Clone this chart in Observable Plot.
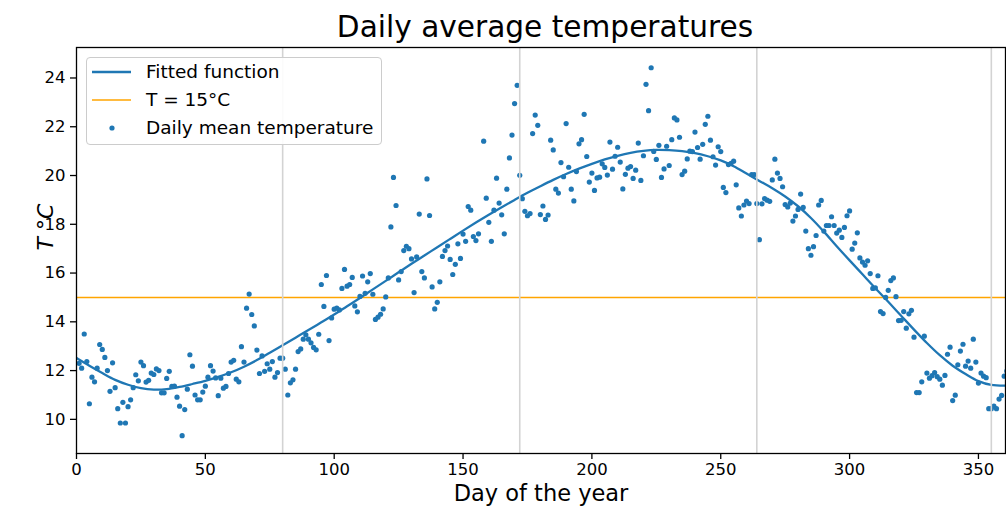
<!DOCTYPE html>
<html>
<head>
<meta charset="utf-8">
<script src="https://cdn.jsdelivr.net/npm/d3@7"></script>
<script src="https://cdn.jsdelivr.net/npm/@observablehq/plot@0.6"></script>
<style>
  body { margin: 0; background: white; font-family: "DejaVu Sans", sans-serif; }
  #wrap { position: relative; width: 1006px; height: 515px; overflow: hidden; }
  #title { box-sizing: border-box; height: 40px; padding-top: 10px; margin-left: 76px; width: 938px;
           text-align: center; font-size: 29.6px; line-height: 1.164; color: #000; white-space: nowrap; }
  #legend { position: absolute; left: 86px; top: 57px; width: 296px; height: 88px; box-sizing: border-box;
            border: 1px solid #cccccc; border-radius: 4px; background: rgba(255,255,255,0.9); }
  #legend svg { position: absolute; left: -1px; top: -1px; }
</style>
</head>
<body>
<div id="wrap">
  <div id="title">Daily average temperatures</div>
  <div id="chart"></div>
  <div id="legend"></div>
</div>
<script>
// Observed daily mean temperatures (day of year, °C)
const days = [
  1,2,3,4,5,6,7,8,9,10,11,12,13,14,15,16,17,18,19,20,
  21,22,23,24,25,26,27,28,29,30,31,32,33,34,35,36,37,38,39,40,
  41,42,43,44,45,46,47,48,49,50,51,52,53,54,55,56,57,58,59,60,
  61,62,63,64,65,66,67,68,69,70,71,72,73,74,75,76,77,78,79,80,
  81,82,83,84,85,86,87,88,89,90,91,92,93,94,95,96,97,98,99,100,
  101,102,103,104,105,106,107,108,109,110,111,112,113,114,115,116,117,118,119,120,
  121,122,123,124,125,126,127,128,129,130,131,132,133,134,135,136,137,138,139,140,
  141,142,143,144,145,146,147,148,149,150,151,152,153,154,155,156,158,159,160,
  161,162,163,164,165,166,167,168,169,170,171,172,173,174,175,176,177,178,179,180,
  181,182,183,184,185,186,187,188,189,190,191,192,193,194,195,196,197,198,199,200,
  201,202,203,204,205,206,207,208,209,210,211,212,213,214,215,216,217,218,219,220,
  221,222,223,224,225,226,227,228,229,230,231,232,233,234,235,236,237,238,239,240,
  241,242,243,244,245,246,247,248,249,250,251,252,253,254,255,256,257,258,259,260,
  261,262,263,264,265,266,267,268,269,270,271,272,273,274,275,276,277,278,279,280,
  281,282,283,284,285,286,287,288,289,290,291,292,293,294,295,296,297,298,299,300,
  301,302,303,304,305,306,307,308,309,310,311,312,313,314,315,316,317,318,319,320,
  321,322,323,324,325,326,327,328,329,330,331,332,333,334,335,336,337,338,339,340,
  341,342,343,344,345,346,347,348,349,350,351,352,353,354,355,356,357,358,359,360,361
];
const temps = [
  12.3,12.1,13.5,12.37,10.64,11.73,11.54,12.1,13.07,12.87,12.54,12.0,11.15,12.32,11.3,10.44,9.85,10.7,9.85,10.52,
  10.8,11.3,11.83,11.58,12.35,12.2,11.53,11.6,11.9,11.84,12.07,12.0,11.09,11.09,11.68,11.97,11.35,11.36,10.91,10.54,
  9.33,10.4,11.24,12.65,12.18,11.0,10.8,10.8,11.12,11.36,11.73,12.2,11.98,11.7,10.97,11.69,11.28,11.35,11.88,12.35,
  12.42,11.65,11.54,12.98,12.35,14.56,15.14,14.3,13.83,12.84,11.88,12.6,11.97,12.28,12.06,12.37,11.73,11.92,12.51,12.51,
  12.06,11.0,11.5,11.62,12.06,12.78,12.89,13.29,13.47,13.29,13.14,12.95,12.85,13.49,15.53,14.63,15.9,13.23,14.16,14.52,
  14.56,14.49,15.37,16.15,15.46,15.53,15.82,14.65,14.41,15.04,15.88,15.17,15.64,15.98,15.13,14.1,14.19,14.31,14.53,15.02,
  15.8,17.89,19.92,18.77,15.72,16.06,16.92,17.1,17.0,16.58,15.2,16.66,18.42,16.06,15.8,19.86,18.36,15.43,14.53,14.8,
  15.64,16.68,16.92,17.11,16.56,15.94,16.36,17.2,16.6,17.6,17.3,18.73,18.58,17.5,17.33,17.61,21.41,19.07,18.08,
  17.3,18.58,19.89,18.87,18.39,17.61,19.44,20.72,21.66,22.95,23.7,20.01,19.05,18.53,18.35,18.44,21.72,22.48,22.06,18.4,
  18.75,18.2,18.38,21.45,21.05,19.44,19.28,20.53,19.95,22.13,20.34,19.44,18.96,20.16,21.3,21.47,22.51,20.78,19.73,20.1,
  19.39,19.9,19.93,20.48,20.33,20.02,21.37,20.26,20.79,21.16,20.55,19.45,20.05,20.3,20.37,19.88,20.22,21.33,19.8,20.81,
  23.74,22.66,24.42,20.99,20.66,21.24,19.92,20.27,21.2,20.41,21.47,22.36,22.28,21.57,20.04,20.18,20.68,21.0,20.98,21.78,
  21.15,20.67,21.28,22.1,22.43,21.45,20.77,20.43,21.18,20.98,19.51,19.3,20.45,20.5,20.59,19.62,18.67,18.34,18.79,18.95,
  18.85,20.04,20.04,18.85,17.37,18.84,19.05,18.99,18.94,19.82,20.67,20.1,19.88,19.54,18.81,18.71,18.87,18.13,18.34,18.61,
  19.24,18.69,17.72,17.0,16.73,17.08,17.54,18.79,18.98,17.72,17.95,17.95,18.31,17.95,17.64,17.76,17.46,17.87,18.35,18.55,
  16.98,17.23,17.65,16.62,16.45,16.32,16.5,15.98,15.37,15.39,15.89,14.42,14.34,15.0,15.29,15.69,15.8,15.03,14.05,14.06,
  14.42,13.74,14.33,14.47,13.37,11.1,11.1,11.54,13.41,11.9,11.69,11.79,11.92,11.75,11.65,11.4,11.8,12.67,12.96,10.77,
  10.99,12.24,12.8,13.08,12.18,12.39,12.1,13.29,12.35,11.49,11.9,11.77,11.71,10.44,10.44,10.54,10.44,10.83,10.98,11.77,11.98
];

// Fitted function
const fitDays  = [0,5,10,15,20,25,30,35,40,45,50,55,60,65,70,75,80,85,90,95,100,105,110,115,120,125,130,135,140,145,150,155,160,165,170,175,180,185,190,195,200,205,210,215,220,225,230,235,240,245,250,255,260,265,270,275,280,285,290,295,300,305,310,315,320,325,330,335,340,345,350,355,360.5];
const fitTemps = [12.52,12.2,11.9,11.62,11.42,11.28,11.22,11.24,11.33,11.45,11.58,11.74,11.93,12.16,12.43,12.73,13.04,13.35,13.66,13.98,14.3,14.64,14.98,15.33,15.68,16.03,16.38,16.72,17.06,17.4,17.74,18.07,18.39,18.7,19.0,19.29,19.56,19.82,20.06,20.28,20.48,20.66,20.81,20.93,21.01,21.05,21.04,21.0,20.92,20.79,20.62,20.38,20.08,19.78,19.48,19.14,18.74,18.26,17.7,17.1,16.52,15.95,15.38,14.82,14.25,13.68,13.13,12.63,12.2,11.86,11.57,11.41,11.38];

const threshold = [15];
const seasonDays = [80, 172, 264, 355];
const xTicks = [0, 50, 100, 150, 200, 250, 300, 350];
const yTicks = [10, 12, 14, 16, 18, 20, 22, 24];

const obs = days.map((d, i) => ({day: d, t: temps[i]}));
const fit = fitDays.map((d, i) => ({day: d, t: fitTemps[i]}));

const blue = "#1f77b4";
const chart = Plot.plot({
  width: 1006,
  height: 475,
  marginLeft: 76,
  marginRight: 1,
  marginTop: 7,
  marginBottom: 62,
  x: {domain: [0, 360.5]},
  y: {domain: [8.6, 25.25]},
  style: {fontFamily: "DejaVu Sans, sans-serif", background: "white", color: "black", overflow: "visible"},
  marks: [
    Plot.ruleY(threshold, {stroke: "orange", strokeWidth: 1.6}),
    Plot.line(fit, {x: "day", y: "t", stroke: blue, strokeWidth: 2.3, curve: "catmull-rom", clip: true}),
    Plot.dot(obs, {x: "day", y: "t", r: 2.6, fill: blue, stroke: "none", clip: true}),
    Plot.ruleX(seasonDays, {stroke: "lightgray", strokeWidth: 1.6}),
    Plot.frame({stroke: "black", strokeWidth: 1.3}),
    Plot.axisX({ticks: xTicks, tickSize: 6, tickPadding: 4, fontSize: 16.5, label: null, strokeWidth: 1.3}),
    Plot.axisY({ticks: yTicks, tickSize: 6, tickPadding: 5, fontSize: 16.5, label: null, strokeWidth: 1.3}),
    Plot.text(["Day of the year"], {frameAnchor: "bottom", dy: 47, fontSize: 22.5, fill: "black"}),
    Plot.text(["T °C"], {frameAnchor: "left", dx: -31, rotate: -90, fontSize: 22, fontStyle: "italic", fill: "black"})
  ]
});
document.getElementById("chart").appendChild(chart);

// Legend
const lg = d3.select("#legend").append("svg").attr("width", 296).attr("height", 88)
  .style("font-family", "DejaVu Sans, sans-serif").style("font-size", "18.5px");
const rows = [
  {label: "Fitted function", kind: "line", color: blue, w: 2.3, y: 15},
  {label: "T = 15°C", kind: "line", color: "orange", w: 1.6, y: 43},
  {label: "Daily mean temperature", kind: "dot", color: blue, y: 71}
];
rows.forEach(r => {
  if (r.kind === "line") {
    lg.append("line").attr("x1", 6).attr("x2", 45).attr("y1", r.y).attr("y2", r.y)
      .attr("stroke", r.color).attr("stroke-width", r.w);
  } else {
    lg.append("circle").attr("cx", 26).attr("cy", r.y).attr("r", 2.6).attr("fill", r.color);
  }
  lg.append("text").attr("x", 60).attr("y", r.y).attr("dy", "0.35em").attr("fill", "black").text(r.label);
});
</script>
</body>
</html>
